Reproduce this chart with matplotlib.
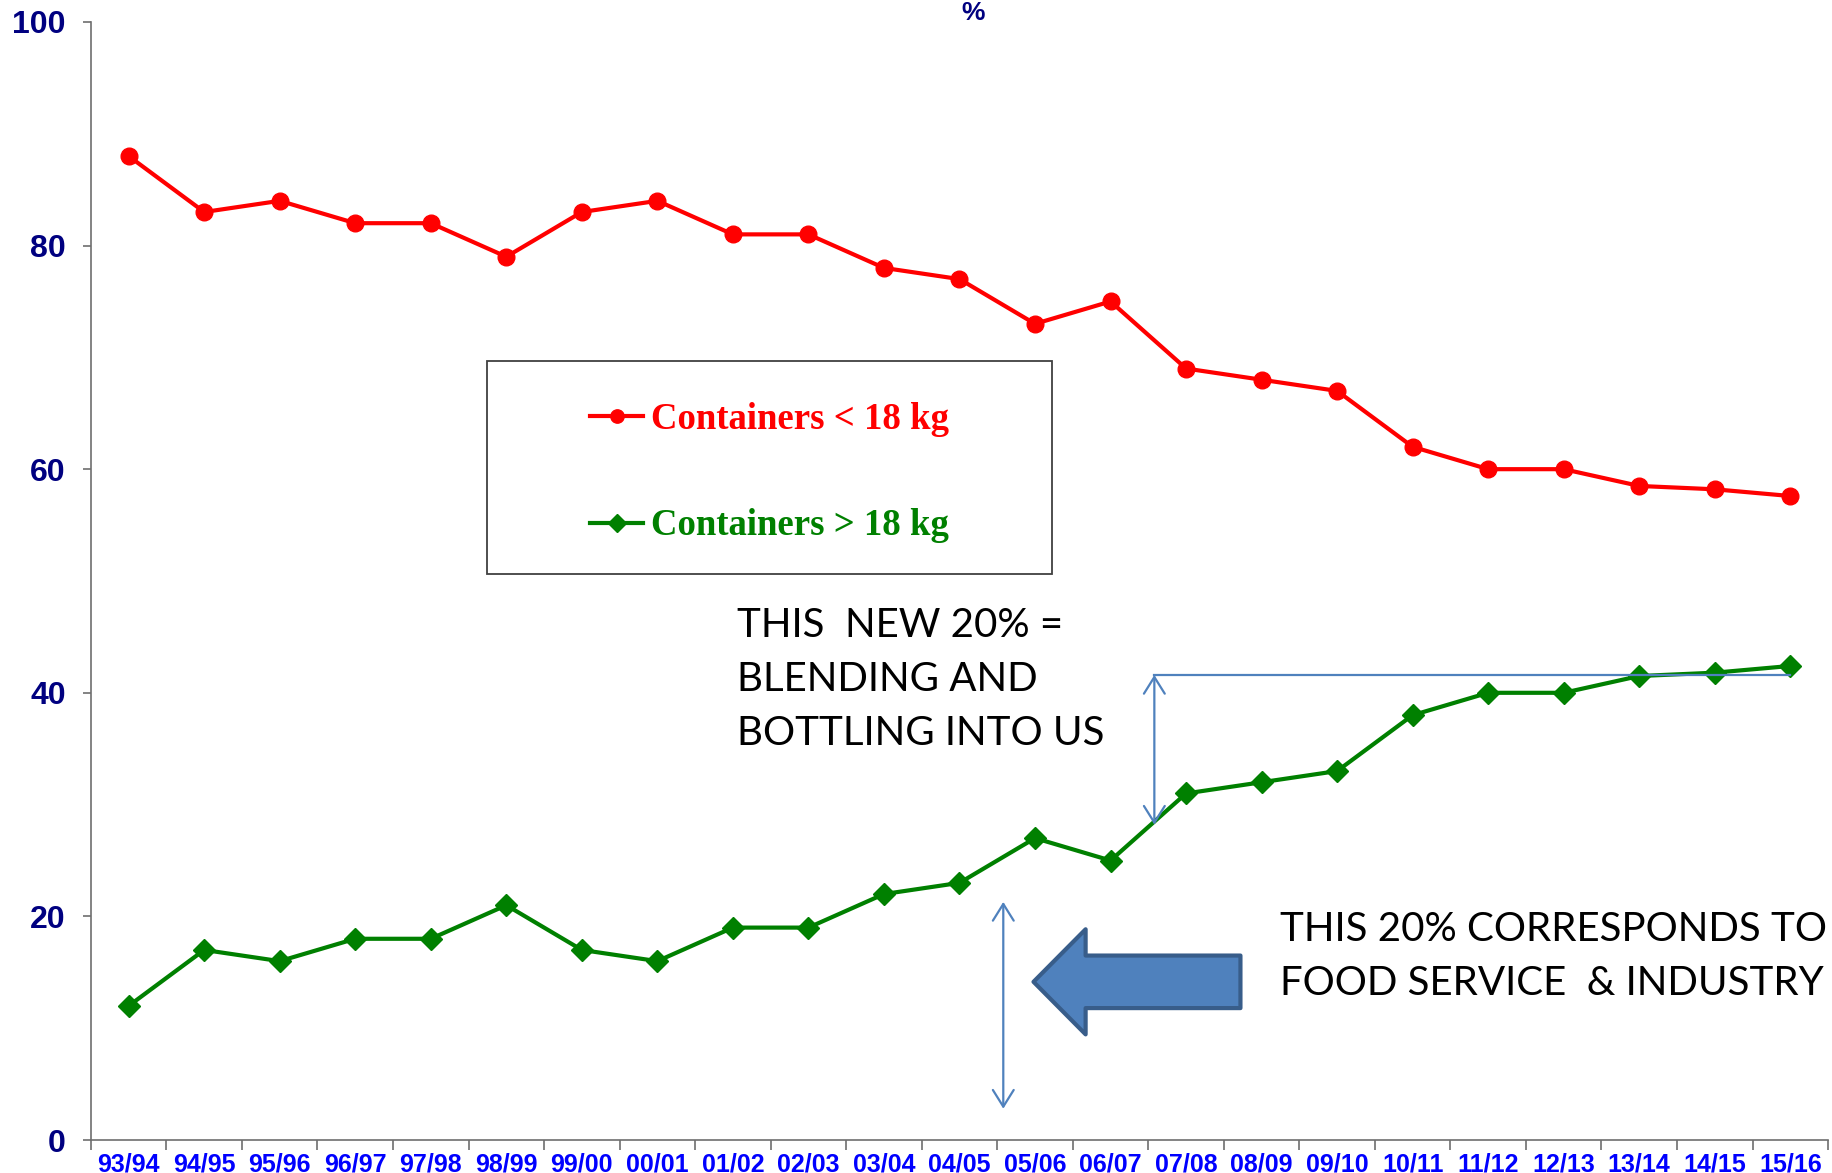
import numpy as np
import matplotlib
matplotlib.use('Agg')
import matplotlib.pyplot as plt
from matplotlib.patches import Rectangle, FancyArrow

seasons = ['93/94', '94/95', '95/96', '96/97', '97/98', '98/99', '99/00', '00/01',
           '01/02', '02/03', '03/04', '04/05', '05/06', '06/07', '07/08', '08/09',
           '09/10', '10/11', '11/12', '12/13', '13/14', '14/15', '15/16']
small_containers = [88, 83, 84, 82, 82, 79, 83, 84, 81, 81, 78, 77, 73, 75, 69, 68,
                    67, 62, 60, 60, 58.5, 58.2, 57.6]
large_containers = [12, 17, 16, 18, 18, 21, 17, 16, 19, 19, 22, 23, 27, 25, 31, 32,
                    33, 38, 40, 40, 41.5, 41.8, 42.4]

fig = plt.figure(figsize=(18.33, 11.73), dpi=100)
ax = fig.add_axes([0.0496, 0.0281, 0.9477, 0.9532])

x = np.arange(len(seasons))
ax.plot(x, small_containers, color='#FF0000', lw=3, marker='o', markersize=12,
        label='Containers < 18 kg')
ax.plot(x, large_containers, color='#008000', lw=3, marker='D', markersize=11,
        label='Containers > 18 kg')

ax.set_xlim(-0.5, len(seasons) - 0.5)
ax.set_ylim(0, 100)
ax.set_yticks([0, 20, 40, 60, 80, 100])
ax.set_xticks(x)
ax.set_xticklabels(seasons)
ax.set_xticks(np.arange(-0.5, len(seasons), 1), minor=True)

for s in ['top', 'right']:
    ax.spines[s].set_visible(False)
for s in ['left', 'bottom']:
    ax.spines[s].set_color('#6e6e6e')
    ax.spines[s].set_linewidth(1.2)

ax.tick_params(axis='x', which='major', length=0, pad=9)
ax.tick_params(axis='x', which='minor', length=7, color='#6e6e6e', width=1.2)
ax.tick_params(axis='y', length=6, color='#6e6e6e', width=1.2, pad=12)
for lab in ax.get_xticklabels():
    lab.set_fontfamily('Liberation Sans')
    lab.set_fontweight('bold')
    lab.set_fontsize(18)
    lab.set_color('#0000FF')
for lab in ax.get_yticklabels():
    lab.set_fontfamily('Liberation Sans')
    lab.set_fontweight('bold')
    lab.set_fontsize(23)
    lab.set_color('#000080')

# title remnant at the very top
fig.text(0.531, 0.999, '%', ha='center', va='top', fontsize=19,
         fontweight='bold', color='#000080', family='Liberation Sans')

# legend with its own box
ax.add_patch(Rectangle((0.228, 0.506), 0.325, 0.191, transform=ax.transAxes,
                       fill=False, ec='#404040', lw=1.3))
leg = ax.legend(loc='center', bbox_to_anchor=(0.3905, 0.597), frameon=False,
                prop={'family': 'Liberation Serif', 'weight': 'bold', 'size': 26.5},
                labelcolor='linecolor', handlelength=1.45, handletextpad=0.2,
                labelspacing=1.95, markerscale=0.8)

blue = '#4F81BD'
astyle = dict(arrowstyle='<->,head_length=0.4,head_width=0.25', color=blue,
              lw=1.6, mutation_scale=30, shrinkA=0, shrinkB=0)
ax.annotate('', xy=(11.58, 2.8), xytext=(11.58, 21.3), arrowprops=astyle)
ax.annotate('', xy=(13.58, 28.2), xytext=(13.58, 41.6), arrowprops=astyle)
ax.plot([13.58, 22.0], [41.6, 41.6], color=blue, lw=1.6)

ax.add_patch(FancyArrow(14.72, 14.15, -2.74, 0, width=4.7, head_width=9.4,
                        head_length=0.69, length_includes_head=True,
                        fc=blue, ec='#385D8A', lw=3, joinstyle='round', zorder=5))

ax.text(8.05, 41.2, 'THIS  NEW 20% =\nBLENDING AND\nBOTTLING INTO US',
        fontsize=29, family='Lato', color='black', ha='left', va='center',
        linespacing=1.57)
ax.text(15.25, 16.4, 'THIS 20% CORRESPONDS TO\nFOOD SERVICE  & INDUSTRY',
        fontsize=29, family='Lato', color='black', ha='left', va='center',
        linespacing=1.55)

fig.savefig('out.png', dpi=100)
